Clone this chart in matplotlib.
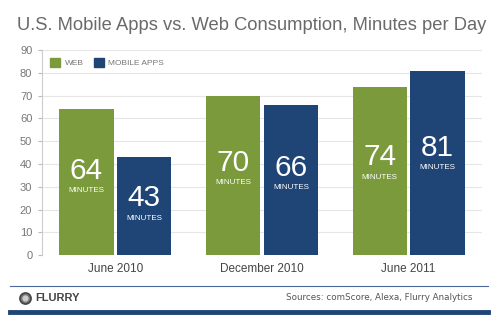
import numpy as np
import matplotlib.pyplot as plt
from matplotlib.lines import Line2D
from matplotlib.patches import Patch

# datos del gráfico
periodos = ["June 2010", "December 2010", "June 2011"]
web = [64, 70, 74]
apps = [43, 66, 81]
series = ["WEB", "MOBILE APPS"]

verde = "#7a9a3c"
azul = "#1f4476"
gris = "#6a6a6a"

plt.rcParams['font.family'] = ['Liberation Sans', 'DejaVu Sans']

fig = plt.figure(figsize=(5, 3.23), dpi=100)
ax = fig.add_axes([0.084, 0.2105, 0.88, 0.634])

x = np.arange(len(periodos))
ancho = 0.37
off = 0.197

b1 = ax.bar(x - off, web, ancho, color=verde, label=series[0], zorder=3)
b2 = ax.bar(x + off, apps, ancho, color=azul, label=series[1], zorder=3)

# etiquetas dentro de las barras
for barras in (b1, b2):
    for b in barras:
        v = b.get_height()
        cx = b.get_x() + b.get_width() / 2
        ny = v * 0.58
        ax.text(cx, ny, str(int(v)), color="white", fontsize=21.5,
                ha="center", va="center", zorder=4)
        ax.text(cx, ny - 8.7, "MINUTES", color="white", fontsize=5.8,
                ha="center", va="center", zorder=4)

ax.set_xlim(-0.5, 2.5)
ax.set_ylim(0, 90)
ax.set_yticks(range(0, 91, 10))
ax.set_xticks(x)
ax.set_xticklabels(periodos)
ax.tick_params(axis="y", labelsize=8, colors="#bbbbbb", labelcolor="#777777", length=3, pad=4)
ax.tick_params(axis="x", labelsize=8.5, labelcolor="#444444", length=0, pad=6)
ax.grid(axis="y", color="#e6e6e6", linewidth=0.8, zorder=0)
for s in ["top", "right", "bottom"]:
    ax.spines[s].set_visible(False)
ax.spines["left"].set_color("#cccccc")

ax.legend(handles=[Patch(color=verde, label=series[0]), Patch(color=azul, label=series[1])],
          loc="upper left", ncol=2, frameon=False, fontsize=6, handlelength=1.3,
          handleheight=1.3, columnspacing=1.2, handletextpad=0.5,
          bbox_to_anchor=(0.0, 1.0), labelcolor="#777777")

fig.text(0.034, 0.922, "U.S. Mobile Apps vs. Web Consumption, Minutes per Day",
         fontsize=13.2, color=gris, ha="left", va="center")

# pie de página
fig.add_artist(Line2D([0.02, 0.976], [0.115, 0.115], color="#4a6a9a", lw=0.8))
fig.add_artist(Line2D([0.02, 0.976], [0.035, 0.035], color=azul, lw=3.5))
fig.add_artist(Line2D([0.05], [0.078], marker="o", markersize=8, color="#777777",
                      markeredgecolor="#444444", markeredgewidth=1.2))
fig.add_artist(Line2D([0.05], [0.078], marker="o", markersize=3.5, color="#cccccc"))
fig.text(0.07, 0.078, "FLURRY", fontsize=8, fontweight="bold", color="#444444",
         ha="left", va="center")
fig.text(0.946, 0.078, "Sources: comScore, Alexa, Flurry Analytics", fontsize=6.3,
         color="#555555", ha="right", va="center", family=["DejaVu Sans"])

fig.savefig("out.png", dpi=100)
